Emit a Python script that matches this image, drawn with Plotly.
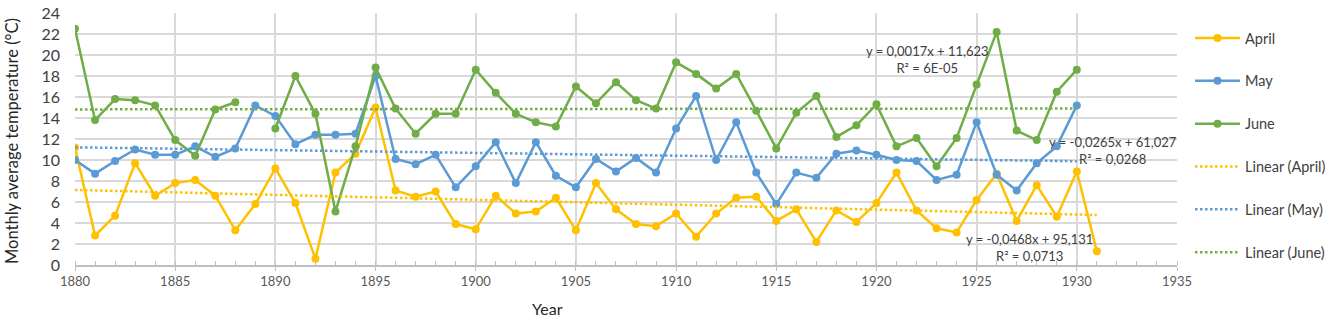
import plotly.graph_objects as go

# ---- data ----
april_years = list(range(1880, 1932))
april = [11.2, 2.8, 4.7, 9.7, 6.6, 7.8, 8.1, 6.6, 3.3, 5.8,
         9.2, 5.9, 0.6, 8.8, 10.6, 15.0, 7.1, 6.5, 7.0, 3.9,
         3.4, 6.6, 4.9, 5.1, 6.4, 3.3, 7.8, 5.3, 3.9, 3.7,
         4.9, 2.7, 4.9, 6.4, 6.5, 4.2, 5.3, 2.2, 5.2, 4.1,
         5.9, 8.8, 5.2, 3.5, 3.1, 6.2, 8.7, 4.2, 7.6, 4.6,
         8.9, 1.3]

may_years = list(range(1880, 1931))
may = [10.0, 8.7, 9.9, 11.0, 10.5, 10.5, 11.3, 10.3, 11.1, 15.2,
       14.2, 11.5, 12.4, 12.4, 12.5, 18.0, 10.1, 9.6, 10.5, 7.4,
       9.4, 11.7, 7.8, 11.7, 8.5, 7.4, 10.1, 8.9, 10.2, 8.8,
       13.0, 16.1, 10.0, 13.6, 8.8, 5.8, 8.8, 8.3, 10.6, 10.9,
       10.5, 10.0, 9.9, 8.1, 8.6, 13.6, 8.6, 7.1, 9.7, 11.3,
       15.2]

june_years = list(range(1880, 1931))
june = [22.5, 13.8, 15.8, 15.7, 15.2, 11.9, 10.4, 14.8, 15.5, None,
        13.0, 18.0, 14.4, 5.1, 11.3, 18.8, 14.9, 12.5, 14.4, 14.4,
        18.6, 16.4, 14.4, 13.6, 13.2, 17.0, 15.4, 17.4, 15.7, 14.9,
        19.3, 18.2, 16.8, 18.2, 14.7, 11.1, 14.5, 16.1, 12.2, 13.3,
        15.3, 11.3, 12.1, 9.4, 12.1, 17.2, 22.2, 12.8, 11.9, 16.5,
        18.6]

series_names = ["April", "May", "June"]
trend_slopes = [-0.0468, -0.0265, 0.0017]
trend_intercepts = [95.131, 61.027, 11.623]
trend_labels = ["y = -0,0468x + 95,131<br>R² = 0,0713",
                "y = -0,0265x + 61,027<br>R² = 0,0268",
                "y = 0,0017x + 11,623<br>R² = 6E-05"]
x_ticks = list(range(1880, 1940, 5))
y_ticks = list(range(0, 26, 2))

colors = ["#FFC000", "#5B9BD5", "#70AD47"]
FONT = "Lato"

fig = go.Figure()
all_years = [april_years, may_years, june_years]
all_vals = [april, may, june]

for i, (yrs, vals) in enumerate(zip(all_years, all_vals)):
    fig.add_trace(go.Scatter(
        x=yrs, y=vals, name=series_names[i], mode="lines+markers",
        line=dict(color=colors[i], width=2.5),
        marker=dict(color=colors[i], size=8),
        connectgaps=False, legendgroup=series_names[i], legendrank=i + 1,
    ))

for i, yrs in enumerate(all_years):
    xs = [yrs[0], yrs[-1]]
    ys = [trend_slopes[i] * x + trend_intercepts[i] for x in xs]
    nm = f"Linear ({series_names[i]})"
    fig.add_trace(go.Scatter(
        x=xs, y=ys, name=nm, mode="lines",
        line=dict(color=colors[i], width=2.5, dash="2.5px,2.5px"),
        legendgroup=nm, legendrank=4 + i,
    ))

# trendline equation labels
ann_pos = [(1927.65, 1.62), (1931.8, 10.88), (1922.56, 19.61)]
for i, (ax, ay) in enumerate(ann_pos):
    fig.add_annotation(x=ax, y=ay, xref="x", yref="y", text=trend_labels[i],
                       showarrow=False, align="center",
                       font=dict(family=FONT, size=13, color="#404040"))

fig.add_annotation(x=(547 - 75) / 1102, y=(265 - 308) / 252, xref="paper", yref="paper",
                   text="Year", showarrow=False, xanchor="center", yanchor="middle",
                   font=dict(family=FONT, size=16, color="#262626"))
fig.add_annotation(x=(12 - 75) / 1102, y=(265 - 141) / 252, xref="paper", yref="paper",
                   text="Monthly average temperature (°C)", textangle=-90,
                   xanchor="center", yanchor="middle",
                   showarrow=False, font=dict(family=FONT, size=16.5, color="#262626"))

fig.update_layout(
    width=1325, height=320,
    margin=dict(l=75, r=148, t=13, b=55, autoexpand=False),
    plot_bgcolor="white", paper_bgcolor="white",
    font=dict(family=FONT, color="#404040"),
    showlegend=True,
    legend=dict(x=(1190 - 75) / 1102, y=(265 - 22) / 252, xanchor="left", yanchor="top",
                font=dict(family=FONT, size=14.5, color="#404040"),
                tracegroupgap=21, itemwidth=45, bgcolor="rgba(0,0,0,0)"),
    xaxis=dict(range=[1880, 1935], tickvals=x_ticks, ticktext=[str(v) for v in x_ticks],
               showgrid=True, gridcolor="#D9D9D9", gridwidth=1.5,
               showline=True, linecolor="#BFBFBF", linewidth=1.5,
               ticks="outside", ticklen=4, tickcolor="#BFBFBF",
               tickfont=dict(family=FONT, size=13, color="#595959"),
               minor=dict(dtick=1, ticks="inside", ticklen=4, tickcolor="#BFBFBF", showgrid=False),
               zeroline=False, mirror=False, automargin=False),
    yaxis=dict(range=[0, 24], tickvals=y_ticks,
               showgrid=True, gridcolor="#D9D9D9", gridwidth=1.5,
               showline=False, zeroline=False, automargin=False,
               ticks="", ticklabelstandoff=14,
               tickfont=dict(family=FONT, size=16, color="#404040")),
)

# remove the default page margin so the figure fills the 1325x320 window exactly
fig.write_html("out.html",
               config={"displayModeBar": False},
               post_script="document.body.style.margin='0';document.body.style.overflow='hidden';")
